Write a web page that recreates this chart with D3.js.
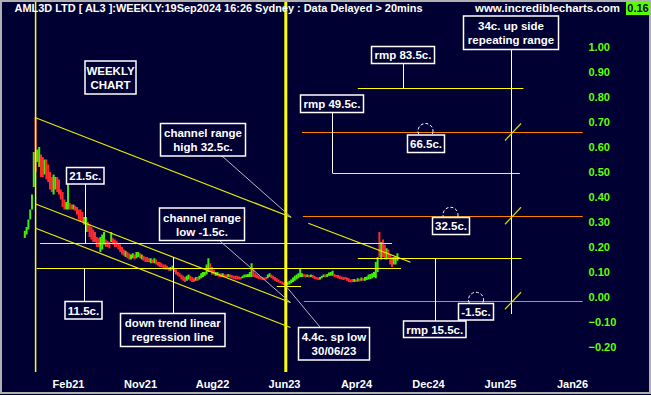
<!DOCTYPE html>
<html><head><meta charset="utf-8">
<script src="https://cdn.jsdelivr.net/npm/d3@7"></script>
<style>
html,body{margin:0;padding:0;background:#000033;overflow:hidden}
svg{display:block}
text{font-family:"Liberation Sans",Arial,sans-serif;font-weight:bold}
</style></head><body><svg id="c" width="651" height="395"></svg>
<script>
// ---------- DATA ----------
const xTickLabels = ["Feb21","Nov21","Aug22","Jun23","Apr24","Dec24","Jun25","Jan26"];
const xTickWeeks  = [24, 64, 104, 144, 184, 224, 264, 304];
const yTickValues = [1.0,0.9,0.8,0.7,0.6,0.5,0.4,0.3,0.2,0.1,0.0,-0.1,-0.2];

const barLow = [
 .236,.25,.27,.31,.35,.44,.50,.54,.52,.48,
 .48,.49,.47,.46,.43,.42,.41,.43,.42,.41,
 .39,.36,.35,.35,.35,.35,.35,.35,.345,.33,
 .31,.30,.30,.29,.26,.26,.24,.23,.22,.22,
 .20,.20,.18,.19,.21,.20,.20,.195,.22,.21,
 .20,.20,.19,.18,.17,.165,.16,.155,.15,.15,
 .155,.15,.155,.16,.155,.15,.145,.14,.14,.14,
 .135,.135,.135,.13,.125,.12,.12,.115,.11,.11,
 .105,.105,.11,.10,.09,.085,.08,.07,.065,.06,
 .065,.07,.065,.06,.06,.065,.065,.07,.075,.08,
 .085,.09,.10,.10,.09,.09,.085,.085,.08,.08,
 .08,.08,.078,.08,.078,.075,.072,.07,.07,.07,
 .07,.075,.078,.08,.08,.08,.08,.08,.078,.075,
 .072,.07,.068,.068,.07,.075,.08,.075,.07,.065,
 .06,.058,.055,.05,.048,.044,.047,.05,.055,.06,
 .065,.07,.075,.08,.08,.08,.078,.08,.078,.08,
 .076,.072,.07,.068,.07,.075,.08,.078,.08,.085,
 .085,.085,.08,.078,.075,.072,.07,.068,.07,.065,
 .06,.058,.06,.06,.06,.062,.062,.065,.065,.065,
 .068,.07,.072,.075,.08,.075,.10,.16,.15,.16,
 .15,.15,.155,.13,.12,.13,.13,.145];
const barHigh = [
 .265,.28,.31,.35,.41,.58,.72,.59,.60,.57,
 .56,.55,.55,.53,.50,.48,.49,.48,.48,.47,
 .43,.42,.39,.38,.47,.375,.37,.37,.365,.36,
 .35,.35,.34,.32,.32,.30,.29,.28,.27,.26,
 .24,.235,.24,.25,.26,.23,.225,.22,.26,.235,
 .23,.225,.215,.21,.20,.19,.185,.18,.175,.17,
 .175,.17,.18,.18,.175,.17,.165,.16,.16,.155,
 .155,.15,.155,.15,.14,.14,.135,.13,.13,.125,
 .12,.12,.125,.115,.11,.10,.095,.09,.085,.08,
 .085,.09,.085,.08,.075,.08,.08,.085,.095,.10,
 .10,.13,.155,.135,.12,.11,.10,.10,.095,.095,
 .095,.09,.09,.092,.09,.088,.085,.085,.085,.082,
 .08,.085,.09,.09,.092,.10,.135,.11,.095,.09,
 .085,.08,.08,.078,.08,.09,.095,.09,.085,.08,
 .075,.07,.065,.062,.058,.055,.06,.065,.07,.078,
 .085,.09,.095,.115,.095,.092,.09,.09,.088,.09,
 .088,.085,.08,.078,.08,.085,.09,.09,.092,.098,
 .10,.105,.092,.088,.088,.085,.082,.08,.08,.078,
 .075,.07,.072,.072,.07,.075,.072,.078,.075,.08,
 .082,.09,.092,.095,.10,.14,.16,.26,.22,.23,
 .21,.195,.19,.17,.16,.16,.16,.175];
const barUp = [
 1,1,1,1,1,1,0,1,1,0, 0,1,0,0,0,0,1,1,0,0,
 0,0,0,1,1,0,0,1,0,0, 0,0,0,1,1,0,0,0,0,0,
 0,0,1,1,1,0,0,0,1,0, 0,0,0,0,0,0,1,0,0,1,
 1,0,1,1,0,1,0,0,0,0, 1,0,1,0,0,0,0,0,0,0,
 0,1,1,0,0,0,0,0,0,0, 1,1,0,0,0,1,0,1,1,1,
 1,1,1,0,0,0,1,1,0,0, 1,0,0,1,0,0,0,0,0,0,
 0,1,1,1,1,1,1,0,0,0, 0,0,0,0,0,1,1,0,0,0,
 0,0,0,0,0,0,1,1,1,1, 1,1,1,1,1,0,0,1,0,1,
 0,0,0,0,1,1,1,0,1,1, 1,1,0,0,0,0,0,0,0,0,
 0,0,0,1,0,1,0,1,0,1, 1,1,1,1,1,1,1,0,1,0,
 0,1,0,0,0,1,1,1];
const lastPrice = 0.16;

// vertical marker weeks (spike high, 4.4c low 30/06/23)
const markerWeeks = [6, 145];
// yellow horizontal levels: [value, fromWeek, toWeek]
const yellowLevels = [
 [0.215, 8.5, 204],
 [0.115, 6.6, 209],
 [0.044, 140, 153.5],
 [0.155, 185, 276],
 [0.495, 171, 275],
 [0.835, 185, 277]];
// orange range levels
const orangeLevels = [0.66, 0.325, -0.015];
const orangeFrom = [154, 154.5, 155];
const orangeTo = 310;
// channel lines [week0, value0, week1, value1]
const channelLines = [
 [6, 0.717, 148, 0.319],
 [6, 0.372, 147.6, -0.022],
 [6, 0.275, 147.6, -0.122],
 [157.5, 0.295, 214.3, 0.139]];

// ---------- CHART ----------
const svg = d3.select("#c");
const x = d3.scaleLinear().domain([0, 100]).range([24.8, 204.8]);
const y = d3.scaleLinear().domain([-0.2, 1.0]).range([347, 47]);
const YEL = "#ffff00", ORG = "#ff8000", GRN = "#44ee00", RED = "#ff2a2a", WHT = "#ffffff";

svg.append("rect").attr("width",651).attr("height",395).attr("fill","#000033");

// price bars
const bars = d3.range(barLow.length).map(i => ({i, lo: barLow[i], hi: barHigh[i], up: barUp[i]}));
svg.append("g").selectAll("rect").data(bars).join("rect")
  .attr("x", d => x(d.i) - 1)
  .attr("width", 2)
  .attr("y", d => y(d.hi))
  .attr("height", d => Math.max(2, y(d.lo) - y(d.hi)))
  .attr("fill", d => d.up ? GRN : RED);

// vertical markers
svg.append("line").attr("x1", x(markerWeeks[0])).attr("x2", x(markerWeeks[0]))
  .attr("y1", 0).attr("y2", 372).attr("stroke", YEL).attr("stroke-width", 1.5);
svg.append("line").attr("x1", x(markerWeeks[1])).attr("x2", x(markerWeeks[1]))
  .attr("y1", 0).attr("y2", 372).attr("stroke", YEL).attr("stroke-width", 3);

// channel lines
svg.append("g").selectAll("line").data(channelLines).join("line")
  .attr("x1", d => x(d[0])).attr("y1", d => y(d[1]))
  .attr("x2", d => x(d[2])).attr("y2", d => y(d[3]))
  .attr("stroke", "#e6e600").attr("stroke-width", 1.2);

// yellow horizontal levels
svg.append("g").selectAll("line").data(yellowLevels).join("line")
  .attr("x1", d => x(d[1])).attr("x2", d => x(d[2]))
  .attr("y1", d => Math.round(y(d[0])) + 0.5).attr("y2", d => Math.round(y(d[0])) + 0.5)
  .attr("stroke", YEL).attr("stroke-width", 1);

// orange levels
svg.append("g").selectAll("line").data(orangeLevels).join("line")
  .attr("x1", (d,i) => x(orangeFrom[i])).attr("x2", x(orangeTo))
  .attr("y1", d => Math.round(y(d)) + 0.5).attr("y2", d => Math.round(y(d)) + 0.5)
  .attr("stroke", ORG).attr("stroke-width", 1);

// grey leader lines
const grey = svg.append("g").attr("stroke", "#b8b8c8").attr("stroke-width", 1);
grey.append("line").attr("x1", 222).attr("y1", 156).attr("x2", x(channelLines[0][2])).attr("y2", y(channelLines[0][3]));
grey.append("line").attr("x1", 220).attr("y1", 241).attr("x2", x(channelLines[1][2])).attr("y2", y(channelLines[1][3]));
grey.append("line").attr("x1", x(markerWeeks[1])).attr("y1", y(yellowLevels[2][0])).attr("x2", 320).attr("y2", 327);

// white leader lines
const wl = svg.append("g").attr("stroke", WHT).attr("stroke-width", 1);
const vline = (xx, y1, y2) => wl.append("line").attr("x1", xx).attr("x2", xx).attr("y1", y1).attr("y2", y2);
vline(85.5, 184, y(0.215));
vline(84.5, y(0.115), 302);
// regression line value at x=173.5
const regAt = px => { const w = x.invert(px); const c = channelLines[1]; return c[1] + (c[3]-c[1])*(w-c[0])/(c[2]-c[0]); };
vline(173.5, 313, y(regAt(173.5)));
vline(403.5, 63, y(0.835));
vline(332.5, 112, y(0.495));
vline(435.5, y(0.155), 321);
vline(511.5, 49, 314);

// yellow diagonal ticks on the repeating-range line
svg.append("g").selectAll("line").data(orangeLevels).join("line")
  .attr("x1", 505).attr("y1", d => y(d) + 8.5).attr("x2", 521).attr("y2", d => y(d) - 8.5)
  .attr("stroke", "#d8d800").attr("stroke-width", 1.2);

// dashed circles
const circ = [[425.5, orangeLevels[0]], [450.5, orangeLevels[1]], [476, orangeLevels[2]]];
svg.append("g").selectAll("circle").data(circ).join("circle")
  .attr("cx", d => d[0]).attr("cy", d => y(d[1]) - 1).attr("r", 7.5)
  .attr("fill", "none").attr("stroke", WHT).attr("stroke-width", 1).attr("stroke-dasharray", "3,2");

// annotation boxes
const boxes = [
 {b:[85,61,136,94], t:["WEEKLY","CHART"]},
 {b:[160.5,123.5,245.5,156], t:["channel range","high 32.5c."]},
 {b:[66.5,167.5,104,184], t:["21.5c."]},
 {b:[159.5,208,244.5,240.5], t:["channel range","low -1.5c."]},
 {b:[65,301.5,102,319], t:["11.5c."]},
 {b:[120.5,313.5,225,346.5], t:["down trend linear","regression line"]},
 {b:[298.5,327.5,369.5,360], t:["4.4c. sp low","30/06/23"]},
 {b:[371.5,46.5,434.5,63.5], t:["rmp 83.5c."]},
 {b:[300.5,95,363.5,112.5], t:["rmp 49.5c."]},
 {b:[407.5,135,444.5,152.5], t:["66.5c."]},
 {b:[432.5,217.5,469.5,234.5], t:["32.5c."]},
 {b:[458.5,303.5,493.5,320], t:["-1.5c."]},
 {b:[403.5,321,466,337.5], t:["rmp 15.5c."]},
 {b:[463.5,16,558.5,49.5], t:["34c. up side","repeating range"]}
];
const bg = svg.append("g").selectAll("g").data(boxes).join("g");
bg.append("rect")
  .attr("x", d => d.b[0]).attr("y", d => d.b[1])
  .attr("width", d => d.b[2]-d.b[0]).attr("height", d => d.b[3]-d.b[1])
  .attr("fill", "#000033").attr("stroke", WHT).attr("stroke-width", 1.5);
bg.each(function(d){
  const g = d3.select(this);
  const cx = (d.b[0]+d.b[2])/2;
  const h = d.b[3]-d.b[1];
  d.t.forEach((s,k) => {
    const base = d.t.length === 1 ? d.b[1] + h/2 + 4.3 : d.b[1] + 13.5 + k*14;
    g.append("text").attr("x", cx).attr("y", base).attr("text-anchor","middle")
      .attr("fill", WHT).attr("font-size", "11.5px").text(s);
  });
});

// axes
const yAxis = d3.axisRight(y).tickValues(yTickValues).tickFormat(d3.format(".2f")).tickSize(0).tickPadding(0);
const ya = svg.append("g").attr("transform","translate(588.5,0)").call(yAxis);
ya.select(".domain").remove();
ya.selectAll("text").attr("fill","#66ff00").attr("font-size","11px")
  .attr("font-family","'Liberation Sans',Arial,sans-serif").attr("font-weight","bold");

const xAxis = d3.axisBottom(x).tickValues(xTickWeeks).tickFormat((d,i) => xTickLabels[i]).tickSize(0).tickPadding(0);
const xa = svg.append("g").attr("transform","translate(0,380.5)").call(xAxis);
xa.select(".domain").remove();
xa.selectAll("text").attr("fill", WHT).attr("font-size","11px")
  .attr("font-family","'Liberation Sans',Arial,sans-serif").attr("font-weight","bold");

// title
svg.append("text").attr("x", 14.5).attr("y", 11.5).attr("fill", WHT).attr("font-size","11px")
  .attr("textLength", 408).attr("lengthAdjust","spacingAndGlyphs")
  .text("AML3D LTD [ AL3 ]:WEEKLY:19Sep2024 16:26 Sydney : Data Delayed > 20mins");
svg.append("text").attr("x", 475).attr("y", 11.5).attr("fill", WHT).attr("font-size","11px")
  .attr("textLength", 145).attr("lengthAdjust","spacingAndGlyphs")
  .text("www.incrediblecharts.com");
svg.append("rect").attr("x", 626).attr("y", 1).attr("width", 24).attr("height", 14).attr("fill", "#55ff00");
svg.append("text").attr("x", 638).attr("y", 12).attr("text-anchor","middle").attr("fill","#000033")
  .attr("font-size","11px").text(d3.format(".2f")(lastPrice));

// frame
svg.append("rect").attr("x",1).attr("y",1).attr("width",649).attr("height",392)
  .attr("fill","none").attr("stroke","#b0b0b0").attr("stroke-width",2);
</script></body></html>
